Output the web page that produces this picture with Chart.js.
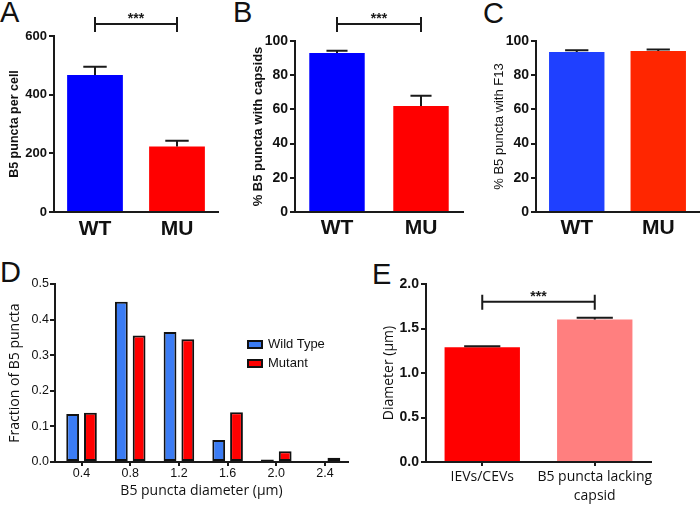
<!DOCTYPE html>
<html>
<head>
<meta charset="utf-8">
<script src="https://cdn.jsdelivr.net/npm/chart.js@4.4.0/dist/chart.umd.min.js"></script>
<style>
  body { margin: 0; background: #fff; width: 700px; height: 505px; position: relative; overflow: hidden; }
  .box { position: absolute; }
  .lab { position: absolute; font: 29px "Liberation Sans", Arial, sans-serif; line-height: 1; color: #111; }
  #legD { position: absolute; left: 247px; top: 334px; font: 13px "Liberation Sans", Arial, sans-serif; color: #111; }
  #legD div { height: 19px; line-height: 19px; white-space: nowrap; }
  #legD span { display: inline-block; width: 12px; height: 5px; border: 2px solid #111; margin-right: 5px; vertical-align: -1px; }
</style>
</head>
<body>
<div class="lab" style="left:0;top:-2px">A</div>
<div class="lab" style="left:233px;top:-2px">B</div>
<div class="lab" style="left:483px;top:-1px">C</div>
<div class="lab" style="left:0;top:258px">D</div>
<div class="lab" style="left:372px;top:260px">E</div>

<div class="box" style="left:0;top:0;width:225px;height:245px"><canvas id="chartA"></canvas></div>
<div class="box" style="left:230px;top:0;width:240px;height:245px"><canvas id="chartB"></canvas></div>
<div class="box" style="left:470px;top:0;width:230px;height:245px"><canvas id="chartC"></canvas></div>
<div class="box" style="left:0;top:255px;width:360px;height:250px"><canvas id="chartD"></canvas></div>
<div class="box" style="left:360px;top:255px;width:340px;height:250px"><canvas id="chartE"></canvas></div>
<div id="legD"></div>

<script>
// data
var groups = ['WT', 'MU'];
var punctaPerCell = [467, 223];
var punctaPerCellErr = [28, 20];
var pctCapsids = [93, 62];
var pctCapsidsErr = [1.3, 6];
var pctF13 = [93.6, 94.2];
var pctF13Err = [1, 0.8];

var diameters = [0.4, 0.8, 1.2, 1.6, 2.0, 2.4];
var wtFraction = [0.135, 0.45, 0.365, 0.062, 0.007, 0.003];
var muFraction = [0.138, 0.355, 0.345, 0.14, 0.03, 0.012];

var vesicleTypes = ['IEVs/CEVs', ['B5 puncta lacking', 'capsid']];
var vesicleDiameter = [1.29, 1.6];
var vesicleDiameterErr = [0.01, 0.02];

var AXIS = '#1a1a1a';
Chart.defaults.font.family = '"Liberation Sans", Arial, sans-serif';
Chart.defaults.color = '#111';

// error bars drawn on top of the bars
var errorBars = {
  id: 'errorBars',
  afterDatasetsDraw: function (chart) {
    var ctx = chart.ctx, y = chart.scales.y;
    chart.data.datasets.forEach(function (ds, di) {
      if (!ds.err) return;
      chart.getDatasetMeta(di).data.forEach(function (bar, i) {
        var top = y.getPixelForValue(ds.data[i] + ds.err[i]);
        var half = bar.width * ds.capRatio / 2;
        ctx.save();
        ctx.strokeStyle = AXIS;
        ctx.lineWidth = 2;
        ctx.beginPath();
        ctx.moveTo(bar.x, bar.y);
        ctx.lineTo(bar.x, top);
        ctx.moveTo(bar.x - half, top);
        ctx.lineTo(bar.x + half, top);
        ctx.stroke();
        ctx.restore();
      });
    });
  }
};

// significance bracket between the two groups
function bracket(level, fontSize) {
  return {
    id: 'bracket',
    afterDraw: function (chart) {
      var ctx = chart.ctx;
      var x0 = chart.scales.x.getPixelForValue(0);
      var x1 = chart.scales.x.getPixelForValue(1);
      var yy = chart.scales.y.getPixelForValue(level);
      ctx.save();
      ctx.strokeStyle = AXIS;
      ctx.lineWidth = 2;
      ctx.beginPath();
      ctx.moveTo(x0, yy); ctx.lineTo(x1, yy);
      ctx.moveTo(x0, yy - 7); ctx.lineTo(x0, yy + 8);
      ctx.moveTo(x1, yy - 7); ctx.lineTo(x1, yy + 8);
      ctx.stroke();
      ctx.fillStyle = AXIS;
      ctx.font = 'bold ' + fontSize + 'px "Liberation Sans", Arial, sans-serif';
      ctx.textAlign = 'center';
      ctx.textBaseline = 'alphabetic';
      ctx.fillText('***', (x0 + x1) / 2, yy - 1);
      ctx.restore();
    }
  };
}

function barPanel(id, c) {
  var plugins = [errorBars];
  if (c.sig) plugins.push(bracket(c.sig, c.sigFont));
  return new Chart(document.getElementById(id), {
    type: 'bar',
    data: {
      labels: c.labels,
      datasets: [{
        data: c.values,
        err: c.err,
        capRatio: c.cap,
        backgroundColor: c.colors,
        borderWidth: 0,
        barPercentage: c.barPct,
        categoryPercentage: 1
      }]
    },
    options: {
      responsive: true,
      maintainAspectRatio: false,
      animation: false,
      events: [],
      layout: { padding: { top: c.padTop, right: c.padRight, left: 0, bottom: 0 } },
      plugins: { legend: { display: false }, tooltip: { enabled: false } },
      scales: {
        x: {
          afterFit: function (s) { s.height = c.xHeight; },
          grid: { drawOnChartArea: false, drawTicks: c.xTicks, tickLength: 4, color: AXIS, lineWidth: 2, offset: false },
          border: { color: AXIS, width: 2 },
          ticks: { font: c.xFont, padding: c.xPad, maxRotation: 0, autoSkip: false, color: '#111' }
        },
        y: {
          min: 0,
          max: c.max,
          afterFit: function (s) { s.width = c.yWidth; },
          grid: { drawOnChartArea: false, tickLength: 5, color: AXIS, lineWidth: 2 },
          border: { color: AXIS, width: 2 },
          ticks: { stepSize: c.step, font: c.yFont, padding: 2, color: '#111', callback: c.fmt },
          title: { display: true, text: c.title, font: c.titleFont, padding: { top: c.titlePad, bottom: 0 }, color: '#111' }
        }
      }
    },
    plugins: plugins
  });
}

barPanel('chartA', {
  labels: groups, values: punctaPerCell, err: punctaPerCellErr, cap: 0.42,
  colors: ['#0000ff', '#ff0000'], barPct: 0.68,
  padTop: 36, padRight: 7, xHeight: 33, yWidth: 54,
  max: 600, step: 200, fmt: function (v) { return v; },
  xFont: { size: 21, weight: 'bold' }, xPad: 5, xTicks: false,
  yFont: { size: 13, weight: 'bold' },
  title: 'B5 puncta per cell', titleFont: { size: 12.5, weight: 'bold' }, titlePad: 7,
  sig: 641, sigFont: 14
});

barPanel('chartB', {
  labels: groups, values: pctCapsids, err: pctCapsidsErr, cap: 0.38,
  colors: ['#0000ff', '#ff0000'], barPct: 0.66,
  padTop: 41, padRight: 7, xHeight: 33, yWidth: 65,
  max: 100, step: 20, fmt: function (v) { return v; },
  xFont: { size: 21, weight: 'bold' }, xPad: 4, xTicks: false,
  yFont: { size: 14, weight: 'bold' },
  title: '% B5 puncta with capsids', titleFont: { size: 13, weight: 'bold' }, titlePad: 21,
  sig: 110, sigFont: 14
});

barPanel('chartC', {
  labels: groups, values: pctF13, err: pctF13Err, cap: 0.42,
  colors: ['#1f40ff', '#ff2600'], barPct: 0.68,
  padTop: 41, padRight: 1, xHeight: 33, yWidth: 66,
  max: 100, step: 20, fmt: function (v) { return v; },
  xFont: { size: 21, weight: 'bold' }, xPad: 4, xTicks: false,
  yFont: { size: 14, weight: 'bold' },
  title: '% B5 puncta with F13', titleFont: { size: 13 }, titlePad: 22,
  sig: null
});

barPanel('chartE', {
  labels: vesicleTypes, values: vesicleDiameter, err: vesicleDiameterErr, cap: 0.48,
  colors: ['#ff0000', '#ff7f7f'], barPct: 0.67,
  padTop: 29, padRight: 49, xHeight: 43, yWidth: 66,
  max: 2, step: 0.5, fmt: function (v) { return v.toFixed(1); },
  xFont: { size: 14, family: '"Open Sans", sans-serif', lineHeight: 1.4 }, xPad: 1, xTicks: true,
  yFont: { size: 14, weight: 'bold' },
  title: 'Diameter (\u00b5m)', titleFont: { size: 14, family: '"Open Sans", sans-serif' }, titlePad: 21,
  sig: 1.8, sigFont: 14
});

// histogram of puncta diameters
var chartD = new Chart(document.getElementById('chartD'), {
  type: 'bar',
  data: {
    datasets: [{
      label: 'Wild Type',
      data: diameters.map(function (d, i) { return { x: d, y: wtFraction[i] }; }),
      backgroundColor: '#3b7cf4'
    }, {
      label: 'Mutant',
      data: diameters.map(function (d, i) { return { x: d, y: muFraction[i] }; }),
      backgroundColor: '#ff0000'
    }]
  },
  options: {
    responsive: true,
    maintainAspectRatio: false,
    animation: false,
    events: [],
    datasets: { bar: { borderColor: '#111', borderWidth: 2, borderSkipped: false, categoryPercentage: 0.73, barPercentage: 0.72 } },
    layout: { padding: { top: 29, right: 12, left: 0, bottom: 0 } },
    plugins: { legend: { display: false }, tooltip: { enabled: false } },
    scales: {
      x: {
        type: 'linear',
        offset: false,
        min: 0.182,
        max: 2.589,
        afterBuildTicks: function (s) { s.ticks = diameters.map(function (v) { return { value: v }; }); },
        afterFit: function (s) { s.height = 43; },
        grid: { drawOnChartArea: false, tickLength: 4, color: AXIS, lineWidth: 2, offset: false },
        border: { color: AXIS, width: 2 },
        ticks: { font: { size: 12.5 }, padding: 0, maxRotation: 0, callback: function (v) { return v.toFixed(1); } },
        title: { display: true, text: 'B5 puncta diameter (\u03bcm)', font: { size: 14, family: '"Open Sans", sans-serif' }, padding: { top: 0, bottom: 6 } }
      },
      y: {
        min: 0,
        max: 0.5,
        afterFit: function (s) { s.width = 55; },
        grid: { drawOnChartArea: false, tickLength: 5, color: AXIS, lineWidth: 2 },
        border: { color: AXIS, width: 2 },
        ticks: { stepSize: 0.1, font: { size: 12.5 }, padding: 1, callback: function (v) { return v.toFixed(1); } },
        title: { display: true, text: 'Fraction of B5 puncta', font: { size: 14, family: '"Open Sans", sans-serif' }, padding: { top: 7, bottom: 0 } }
      }
    }
  }
});

// legend for D
var leg = document.getElementById('legD');
chartD.data.datasets.forEach(function (ds) {
  var row = document.createElement('div');
  var sw = document.createElement('span');
  sw.style.background = ds.backgroundColor;
  row.appendChild(sw);
  row.appendChild(document.createTextNode(ds.label));
  leg.appendChild(row);
});
</script>
</body>
</html>
